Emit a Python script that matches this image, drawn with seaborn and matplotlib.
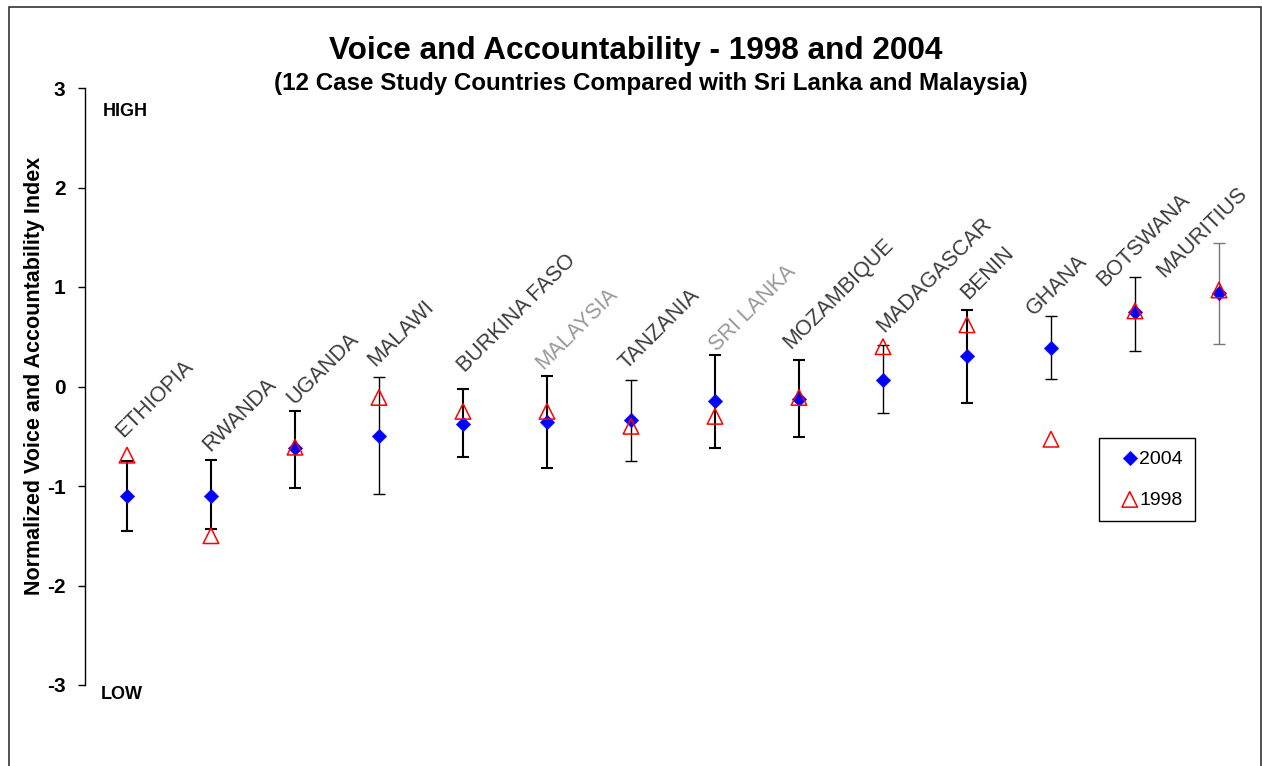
import matplotlib
matplotlib.use("Agg")
import matplotlib.pyplot as plt
from matplotlib.patches import Rectangle
import numpy as np
import pandas as pd
import seaborn as sns

# ---- data -------------------------------------------------------------
countries = ["ETHIOPIA", "RWANDA", "UGANDA", "MALAWI", "BURKINA FASO",
             "MALAYSIA", "TANZANIA", "SRI LANKA", "MOZAMBIQUE", "MADAGASCAR",
             "BENIN", "GHANA", "BOTSWANA", "MAURITIUS"]
comparators = ["MALAYSIA", "SRI LANKA"]

score_2004 = [-1.10, -1.10, -0.62, -0.50, -0.38, -0.36, -0.34,
              -0.15, -0.13, 0.07, 0.31, 0.39, 0.75, 0.94]
score_1998 = [-0.69, -1.50, -0.61, -0.11, -0.25, -0.25, -0.40,
              -0.30, -0.11, 0.40, 0.62, -0.53, 0.76, 0.97]
upper_2004 = [-0.75, -0.74, -0.25, 0.10, -0.03, 0.11, 0.07,
              0.32, 0.27, 0.42, 0.77, 0.71, 1.10, 1.44]
lower_2004 = [-1.45, -1.43, -1.02, -1.08, -0.71, -0.82, -0.75,
              -0.62, -0.51, -0.27, -0.17, 0.08, 0.36, 0.43]

y_ticks = [3, 2, 1, 0, -1, -2, -3]
y_tick_labels = ["3", "2", "1", "0", "-1", "-2", "-3"]

# ---- layout / style ---------------------------------------------------
# baseline start of each rotated country name, in data units
label_x = [-0.05, 0.99, 1.99, 2.96, 4.02, 4.95, 5.95,
           7.02, 7.90, 9.02, 10.01, 10.80, 11.63, 12.35]
label_y = [-0.52, -0.66, -0.19, 0.20, 0.14, 0.17, 0.17,
           0.35, 0.37, 0.54, 0.87, 0.71, 1.00, 1.09]
bar_lw = [1.5, 1.5, 1.5, 1.0, 1.5, 1.5, 1.0,
          1.5, 1.5, 1.0, 1.5, 1.0, 1.0, 1.0]
bar_col = ["black"] * 13 + ["#777777"]

W, H = 1262, 766

sns.set_theme(style="white")
plt.rcParams["font.family"] = ["Liberation Sans", "DejaVu Sans"]
plt.rcParams["text.color"] = "black"
plt.rcParams["axes.labelcolor"] = "black"
plt.rcParams["ytick.color"] = "black"

df = pd.DataFrame({
    "pos": np.arange(len(countries)),
    "country": countries,
    "v2004": score_2004,
    "v1998": score_1998,
    "hi": upper_2004,
    "lo": lower_2004,
})

fig = plt.figure(figsize=(W / 100, H / 100), dpi=100)
fig.patch.set_facecolor("white")
ax = fig.add_axes([85 / W, (H - 685) / H, (1261 - 85) / W, (685 - 88) / H])
ax.set_facecolor("none")

# confidence range of the 2004 estimate
for i, row in df.iterrows():
    ax.errorbar(row["pos"], row["v2004"],
                yerr=[[row["v2004"] - row["lo"]], [row["hi"] - row["v2004"]]],
                fmt="none", ecolor=bar_col[i], elinewidth=bar_lw[i],
                capsize=4, capthick=bar_lw[i], zorder=2, clip_on=False)

sns.scatterplot(data=df, x="pos", y="v2004", marker="D", s=55,
                color="#0000FF", edgecolor="#0000FF", linewidth=0.3,
                label="2004", zorder=3, clip_on=False, ax=ax)
sns.scatterplot(data=df, x="pos", y="v1998", marker="^", s=125,
                color="#FF0000", facecolor="none", edgecolor="#FF0000",
                linewidth=1.1, label="1998", zorder=4, clip_on=False, ax=ax)

ax.set_xlim(-0.5, 13.5)
ax.set_ylim(-3, 3)
ax.set_xticks([])
ax.set_yticks(y_ticks)
ax.set_yticklabels(y_tick_labels, fontweight="bold", fontsize=15)
ax.tick_params(axis="y", left=True, direction="out", length=5, width=1,
               pad=9, colors="black")
ax.set_xlabel("")
ax.set_ylabel("")
for side in ("top", "right", "bottom"):
    ax.spines[side].set_visible(False)
ax.spines["left"].set_color("black")
ax.spines["left"].set_linewidth(1.0)

# rotated country names
for i, name in enumerate(countries):
    ax.text(label_x[i], label_y[i], name, rotation=45, rotation_mode="anchor",
            ha="left", va="baseline", fontsize=15.5,
            color="#999999" if name in comparators else "#3c3c3c")

ax.text(-0.286, 2.72, "HIGH", fontsize=13, fontweight="bold",
        ha="left", va="baseline")
ax.text(-0.31, -3.14, "LOW", fontsize=13, fontweight="bold",
        ha="left", va="baseline")

handles, labels = ax.get_legend_handles_labels()
leg = ax.legend(handles, labels, loc="upper left",
                bbox_to_anchor=(1099 / W, 1 - 437.7 / H),
                bbox_transform=fig.transFigure, borderaxespad=0,
                frameon=True, fancybox=False, fontsize=14,
                handlelength=1.9, handletextpad=-0.45, borderpad=0.63,
                labelspacing=1.2, scatterpoints=1)
leg.get_frame().set_edgecolor("black")
leg.get_frame().set_linewidth(1.0)
leg.get_frame().set_alpha(1)

fig.text(636 / W, 1 - 59.3 / H, "Voice and Accountability - 1998 and 2004",
         ha="center", va="baseline", fontsize=22.7, fontweight="bold")
fig.text(651 / W, 1 - 90 / H,
         "(12 Case Study Countries Compared with Sri Lanka and Malaysia)",
         ha="center", va="baseline", fontsize=17.35, fontweight="bold")
fig.text(34.5 / W, 1 - 375.5 / H, "Normalized Voice and Accountability Index",
         rotation=90, ha="center", va="center", fontsize=15.5,
         fontweight="bold")

# outer frame around the chart
fig.add_artist(Rectangle((8.5 / W, -0.05), (1261 - 8.5) / W,
                         (H - 6.5) / H + 0.05, transform=fig.transFigure,
                         fill=False, edgecolor="#222222", linewidth=1.1))

fig.savefig("out.png", dpi=100)
